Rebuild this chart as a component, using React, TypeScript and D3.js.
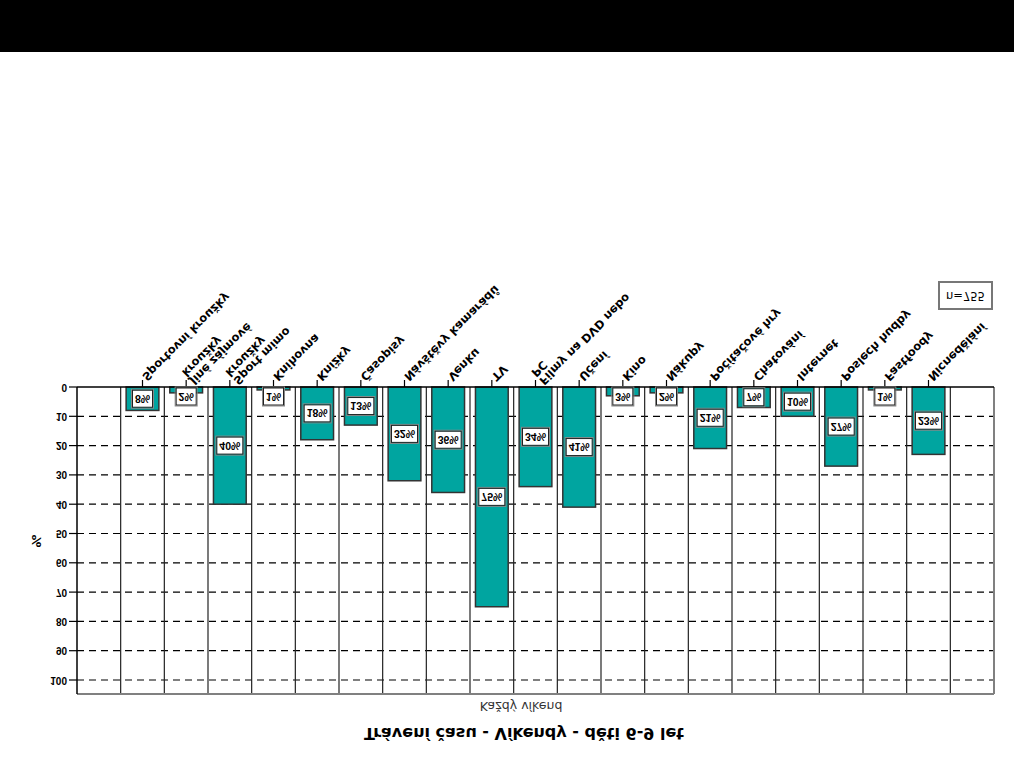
import React from 'react';
import * as d3 from 'd3';

const categories = [
  "Sportovní kroužky",
  "Jiné zájmové\nkroužky",
  "Sport mimo\nkroužky",
  "Knihovna",
  "Knížky",
  "Časopisy",
  "Návštěvy kamarádů",
  "Venku",
  "TV",
  "Filmy na DVD nebo\nPC",
  "Učení",
  "Kino",
  "Nákupy",
  "Počítačové hry",
  "Chatování",
  "Internet",
  "Poslech hudby",
  "Fastfoody",
  "Nicnedělání",
];
const values = [8, 2, 40, 1, 18, 13, 32, 36, 75, 34, 41, 3, 2, 21, 7, 10, 27, 1, 23];
const yTicks = [0, 10, 20, 30, 40, 50, 60, 70, 80, 90, 100];
const title = "Trávení času - Víkendy - děti 6-9 let";
const xTitle = "Každý víkend";
const yTitle = "%";
const note = "n=755";

const W = 1014;
const H = 781;
const FONT = "'Liberation Sans', Arial, sans-serif";
const WIDE = "'DejaVu Sans', Verdana, sans-serif";
const TEAL = "#00a5a0";

const flipAt = (x: number, y: number) => `translate(${x},${y}) scale(1,-1)`;

export default function App() {
  const slots = ["__start", ...categories, "__end"];
  const x = d3.scaleBand<string>().domain(slots).range([77, 994]).padding(0);
  const y = d3.scaleLinear().domain([0, 100]).range([387, 680]);
  const bw = x.bandwidth();
  const barW = bw * 0.75;
  const top = y(0);
  const bottom = 694;
  const left = 77;
  const right = 994;

  return (
    <svg width={W} height={H} style={{ position: 'absolute', left: 0, top: 0, background: '#fff' }} fontFamily={FONT}>
      <rect x={0} y={0} width={W} height={H} fill="#fff" />
      <rect x={0} y={0} width={W} height={52} fill="#000" />

      {/* horizontal dashed gridlines */}
      {yTicks.filter(t => t > 0).map(t => (
        <line key={'g' + t} x1={left} x2={right} y1={y(t)} y2={y(t)} stroke="#000" strokeWidth={1.2} strokeDasharray="7,5" />
      ))}

      {/* vertical category separators */}
      {slots.slice(1).map((s, i) => (
        <line key={'v' + i} x1={x(s)!} x2={x(s)!} y1={top} y2={bottom} stroke="#222" strokeWidth={1.2} />
      ))}

      {/* frame */}
      <line x1={left} x2={right} y1={bottom} y2={bottom} stroke="#808080" strokeWidth={2} />
      <line x1={right} x2={right} y1={top} y2={bottom} stroke="#808080" strokeWidth={2} />
      <line x1={left} x2={left} y1={top} y2={bottom} stroke="#000" strokeWidth={1.5} />

      {/* bars */}
      {categories.map((c, i) => {
        const cx = x(c)! + bw / 2;
        return (
          <rect key={'b' + i} x={cx - barW / 2} y={top} width={barW} height={y(values[i]) - top}
            fill={TEAL} stroke="#333" strokeWidth={1.5} />
        );
      })}

      {/* top axis line */}
      <line x1={left} x2={right} y1={top} y2={top} stroke="#000" strokeWidth={1.5} />

      {/* category tick marks */}
      {categories.map((c, i) => {
        const cx = x(c)! + bw / 2;
        return <line key={'t' + i} x1={cx} x2={cx} y1={top - 7} y2={top} stroke="#000" strokeWidth={1.2} />;
      })}

      {/* value label boxes */}
      {categories.map((c, i) => {
        const cx = x(c)! + bw / 2;
        const label = `${values[i]}%`;
        const bwid = label.length * 6 + 8;
        const bh = 17;
        let cy = (top + y(values[i])) / 2;
        if (cy - bh / 2 < top + 1) cy = top + 1 + bh / 2;
        return (
          <g key={'l' + i}>
            <rect x={cx - bwid / 2 - 1} y={cy - bh / 2 - 1} width={bwid + 2} height={bh + 2} fill="none" stroke="#888" strokeWidth={1} />
            <rect x={cx - bwid / 2} y={cy - bh / 2} width={bwid} height={bh} fill="#fff" stroke="#222" strokeWidth={1} />
            <text transform={flipAt(cx, cy)} textAnchor="middle" dominantBaseline="central" fontSize={10.5} fontWeight="bold" fill="#000">{label}</text>
          </g>
        );
      })}

      {/* category labels (rotated, flipped) */}
      {categories.map((c, i) => {
        const cx = x(c)! + bw / 2;
        const lines = c.split("\n");
        const n = lines.length;
        const bx = cx - 1;
        const by = 376;
        return (
          <text key={'c' + i} transform={`translate(${bx},${by}) scale(1,-1) rotate(45)`} fontFamily={WIDE} fontSize={11.5} fontWeight="bold" fill="#000">
            {lines.map((ln, k) => (
              <tspan key={k} x={0} y={(k - (n - 1) / 2) * 11.3}>{ln}</tspan>
            ))}
          </text>
        );
      })}

      {/* y ticks and labels */}
      {yTicks.map(t => (
        <g key={'y' + t}>
          <line x1={69} x2={left} y1={y(t)} y2={y(t)} stroke="#000" strokeWidth={1.2} />
          <text transform={flipAt(67, y(t))} textAnchor="end" dominantBaseline="central" fontSize={10} fontWeight="bold" fill="#000">{t}</text>
        </g>
      ))}

      {/* y axis title */}
      <text transform={`translate(36,541) scale(1,-1) rotate(-90)`} textAnchor="middle" dominantBaseline="central" fontFamily={WIDE} fontSize={13} fontWeight="bold" fill="#000">{yTitle}</text>

      {/* x axis title */}
      <text transform={flipAt(521, 706)} textAnchor="middle" dominantBaseline="central" fontFamily={WIDE} fontSize={12.5} fill="#333">{xTitle}</text>

      {/* chart title */}
      <text transform={flipAt(524, 733)} textAnchor="middle" dominantBaseline="central" fontFamily={WIDE} fontSize={16} fontWeight="bold" fill="#000">{title}</text>

      {/* note box */}
      <rect x={939} y={282} width={53} height={27} fill="#fff" stroke="#777" strokeWidth={2} />
      <text transform={flipAt(965.5, 295.5)} textAnchor="middle" dominantBaseline="central" fontFamily={WIDE} fontSize={11.5} fill="#000">{note}</text>
    </svg>
  );
}
